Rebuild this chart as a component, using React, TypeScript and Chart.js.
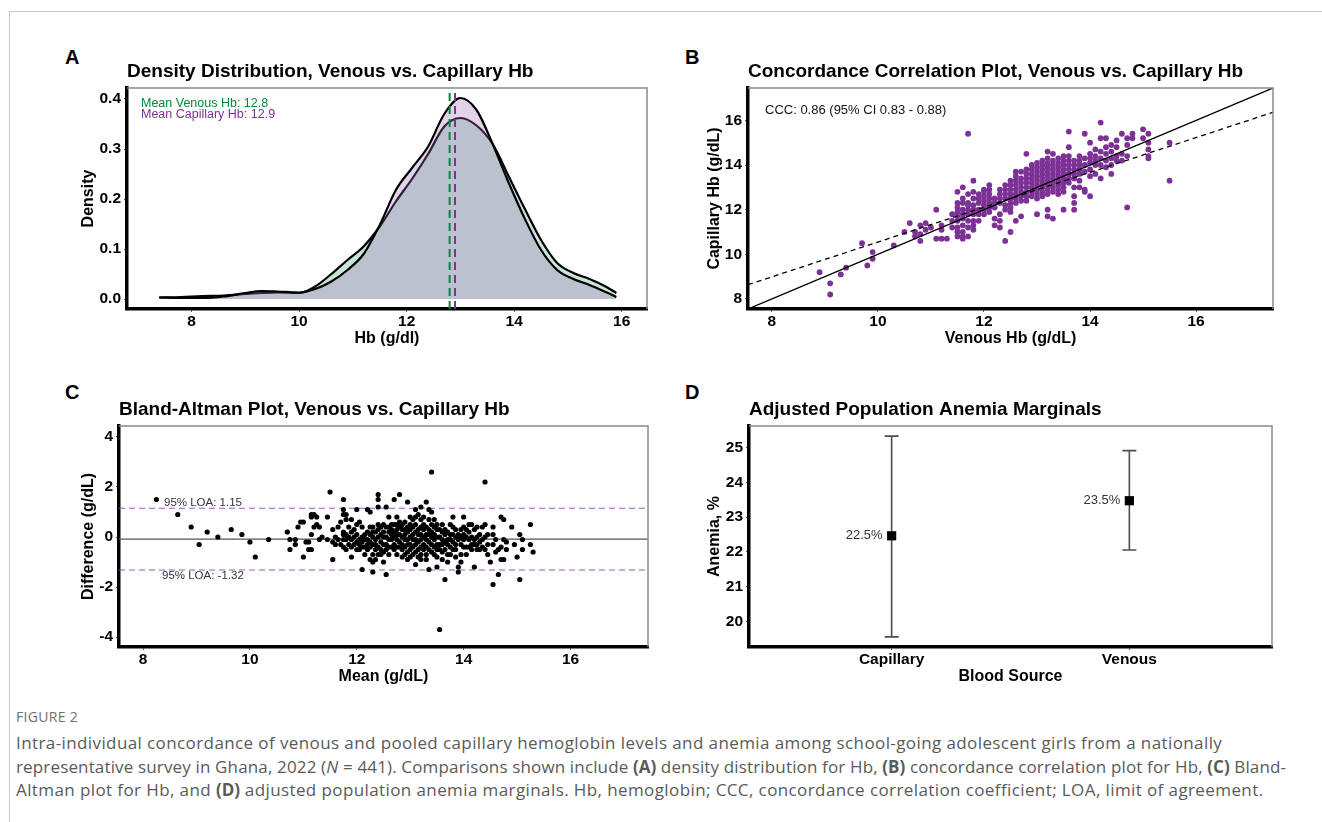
import React, { useEffect, useRef } from 'react';
import { Chart, registerables } from 'chart.js';

Chart.register(...registerables);

const FONT = '"Liberation Sans", Arial, Helvetica, sans-serif';
Chart.defaults.font.family = FONT;

// ---------- Panel A: density ----------
const densityX = [7.4, 7.8, 8.2, 8.6, 9.0, 9.3, 9.6, 10.0, 10.3, 10.6, 10.9, 11.2, 11.5, 11.8, 12.1, 12.4, 12.7, 13.0, 13.3, 13.6, 13.9, 14.2, 14.5, 14.8, 15.1, 15.4, 15.7, 15.9];
const densityVenous = [0.003, 0.004, 0.006, 0.007, 0.010, 0.012, 0.013, 0.012, 0.025, 0.05, 0.078, 0.105, 0.145, 0.195, 0.24, 0.29, 0.345, 0.362, 0.347, 0.31, 0.245, 0.18, 0.118, 0.072, 0.052, 0.04, 0.025, 0.012];
const densityCapillary = [0.003, 0.002, 0.002, 0.005, 0.012, 0.016, 0.015, 0.013, 0.02, 0.035, 0.058, 0.09, 0.148, 0.218, 0.262, 0.305, 0.37, 0.402, 0.378, 0.31, 0.232, 0.16, 0.098, 0.058, 0.04, 0.028, 0.014, 0.004];
const meanVenous = 12.8;
const meanCapillary = 12.9;
const aXTicks = [8, 10, 12, 14, 16];
const aYTicks = [0, 0.1, 0.2, 0.3, 0.4];

// ---------- Panel B: concordance ----------
const bVenousCols = [8.9, 9.1, 9.3, 9.4, 9.7, 9.8, 9.9, 10.3, 10.5, 10.6, 10.7, 10.8, 10.9, 11.0, 11.1, 11.2, 11.3, 11.4,
  11.5, 11.6, 11.7, 11.8, 11.9, 12.0, 12.1, 12.2, 12.3, 12.4, 12.5, 12.6, 12.7, 12.8, 12.9, 13.0, 13.1, 13.2, 13.3, 13.4,
  13.5, 13.6, 13.7, 13.8, 13.9, 14.0, 14.1, 14.2, 14.3, 14.4, 14.5, 14.6, 14.7, 14.8, 15.0, 15.1, 15.5];
const bCapillaryCols = [
  [9.2], [8.7, 8.2], [9.1], [9.4], [10.5], [9.5], [10.1, 9.8], [10.4], [11.0], [11.4], [11.0, 10.8], [11.3, 10.9, 10.6],
  [11.4, 11.1], [11.2], [12.0, 10.7], [11.3, 11.1, 10.7], [10.7], [11.8, 11.5, 11.2],
  [12.8, 12.3, 12.1, 11.9, 11.7, 11.5, 11.2, 11.0, 10.8],
  [13.0, 12.5, 12.3, 12.0, 11.8, 11.6, 11.3, 11.0, 10.8, 10.7],
  [15.4, 12.7, 12.3, 12.2, 12.0, 11.8, 11.5, 11.2, 10.8],
  [13.3, 12.8, 12.5, 12.2, 12.0, 11.8, 11.5, 11.3, 11.1],
  [12.7, 12.5, 12.3, 12.0, 11.8, 11.5],
  [12.9, 12.8, 12.6, 12.4, 12.2, 12.0, 11.8],
  [13.1, 12.9, 12.7, 12.5, 12.3, 12.1, 11.9],
  [12.5, 12.3, 12.1, 11.6, 11.3],
  [12.9, 12.7, 12.5, 12.3, 11.8, 11.5, 11.2],
  [13.1, 12.9, 12.7, 12.5, 12.2, 12.0, 10.6],
  [13.3, 13.1, 12.9, 12.7, 12.5, 12.3, 12.1, 11.9, 11.0],
  [13.7, 13.5, 13.3, 13.1, 12.9, 12.7, 12.5, 12.3, 11.5],
  [13.7, 13.4, 13.2, 13.0, 12.8, 12.6, 12.4, 11.7],
  [14.5, 13.8, 13.6, 13.4, 13.2, 13.0, 12.8, 12.6, 12.4],
  [14.0, 13.8, 13.6, 13.4, 13.2, 13.0, 12.8, 12.6],
  [14.1, 13.9, 13.7, 13.5, 13.3, 13.1, 12.9, 12.7, 12.5, 11.8],
  [14.2, 14.0, 13.8, 13.6, 13.4, 13.2, 13.0, 12.8, 12.6],
  [14.6, 14.3, 14.1, 13.9, 13.7, 13.5, 13.3, 13.1, 12.9, 12.7, 12.0, 11.7],
  [14.5, 14.2, 14.0, 13.8, 13.6, 13.4, 13.2, 13.0, 12.8, 11.6],
  [14.3, 14.1, 13.9, 13.7, 13.5, 13.3, 13.1, 12.9, 12.7],
  [14.4, 14.2, 14.0, 13.8, 13.6, 13.4, 13.2, 13.0, 12.8, 12.0],
  [15.5, 14.8, 14.4, 14.2, 14.0, 13.8, 13.6, 13.4, 13.2],
  [14.2, 14.0, 13.8, 13.6, 13.4, 13.0, 12.6, 12.3, 12.0],
  [14.4, 14.2, 14.0, 13.8, 13.6, 13.3, 13.0],
  [15.4, 14.3, 14.0, 13.7, 12.9, 12.8],
  [15.0, 14.5, 14.3, 14.1, 13.8, 13.5, 12.6],
  [14.7, 14.4, 14.2, 14.0, 13.6],
  [15.9, 15.2, 14.6, 14.3, 14.0, 13.4],
  [15.2, 14.8, 14.5, 14.2, 13.9],
  [14.9, 14.6, 14.3, 14.0, 13.6],
  [15.1, 14.8, 14.4, 14.2],
  [15.4, 14.5, 14.2],
  [15.2, 14.9, 14.4, 12.1],
  [15.4, 15.2],
  [15.6, 15.2],
  [15.4, 15.0, 14.7, 14.4, 14.3],
  [15.0, 13.3],
];
const cccSlope = 0.78;
const cccIntercept = 2.75;
const cccLabel = 'CCC: 0.86 (95% CI 0.83 - 0.88)';
const bTicks = [8, 10, 12, 14, 16];

// ---------- Panel C: Bland-Altman ----------
const cMeanCols = [8.25, 8.65, 8.9, 9.05, 9.2, 9.4, 9.65, 9.85, 10.0, 10.1, 10.35, 10.7, 10.75, 10.85, 10.9, 10.95, 11.0, 11.05, 11.1, 11.15,
  11.2, 11.25, 11.3, 11.35, 11.45, 11.5, 11.55, 11.6, 11.65, 11.7, 11.75, 11.8, 11.85, 11.9, 11.95, 12.0, 12.05, 12.1, 12.15, 12.2,
  12.25, 12.3, 12.35, 12.4, 12.45, 12.5, 12.55, 12.6, 12.65, 12.7, 12.75, 12.8, 12.85, 12.9, 12.95, 13.0, 13.05, 13.1, 13.15, 13.2,
  13.25, 13.3, 13.35, 13.4, 13.45, 13.5, 13.55, 13.6, 13.65, 13.7, 13.75, 13.8, 13.85, 13.9, 13.95, 14.0, 14.05, 14.1, 14.15, 14.2,
  14.25, 14.3, 14.35, 14.4, 14.45, 14.5, 14.55, 14.6, 14.65, 14.7, 14.75, 14.8, 14.9, 14.95, 15.0, 15.05, 15.1, 15.25, 15.3];
const cDiffCols = [
  [1.5], [0.9], [0.4], [-0.3], [0.2], [0.0], [0.3], [0.1], [-0.2], [-0.8], [-0.1], [0.2], [-0.1, -0.5], [-0.1, -0.3], [0.4], [0.6],
  [0.6, -0.8], [-0.2], [-0.5, -0.2], [0.9, 0.8, 0.1, -0.5],
  [0.9, 0.4], [0.8, 0.5], [0.4, -0.1], [0.0], [0.8, -0.1], [1.8], [-0.9, 0.3, -0.2], [0.0, -0.3], [0.4, -0.1], [0.6, -0.3],
  [1.5, 1.1, 0.9, 0.2, 0.1, -0.1, -0.4], [0.9, 0.7, 0.1, -0.1, -0.5], [0.4, 0.0, -0.3], [0.7, 0.2, -0.1, -0.4, -0.8], [0.3, 0.0, -0.3],
  [1.1, 0.5, 0.1, -0.2, -0.5], [0.6, -0.1, -0.3, -0.5], [0.4, 0.0, -0.2, -0.4, -1.3], [0.1, -0.1, -0.4, -0.7], [1.1, 0.2, -0.1, -0.3, -0.5],
  [1.0, 0.4, 0.1, -0.2, -0.4, -0.9], [0.4, 0.2, 0.0, -0.3, -0.7, -1.0, -1.4], [0.2, -0.1, -0.3, -0.5, -0.9],
  [1.7, 1.5, 1.2, 0.5, 0.3, 0.0, -0.4, -0.7], [0.4, 0.1, -0.2, -0.5, -0.7], [0.5, 0.2, 0.0, -0.3, -0.6, -1.0],
  [1.2, -1.5, 0.4, 0.0, -0.3, -0.5], [0.8, 0.4, 0.2, -0.1, -0.4, -0.7], [0.5, 0.3, 0.1, -0.1, -0.4], [1.5, 0.5, 0.2, 0.0, -0.3, -0.5],
  [0.8, 0.5, 0.3, 0.1, -0.1, -0.4, -0.7], [1.7, 0.6, 0.4, 0.1, -0.2, -0.4], [0.5, 0.3, 0.0, -0.3, -0.5, -0.8], [0.6, 0.3, 0.1, -0.1, -0.4, -0.7],
  [1.4, 0.4, 0.2, -0.1, -0.3, -0.6, -0.9], [0.8, 0.5, 0.3, 0.0, -0.3, -0.5, -0.8], [0.7, 0.4, 0.1, -0.1, -0.4, -0.7],
  [1.1, 0.8, 0.5, 0.2, -0.1, -0.3, -0.6, -1.1], [0.9, 0.3, 0.1, -0.2, -0.5, -0.8], [1.2, 0.7, 0.4, 0.1, -0.1, -0.4, -0.7, -0.9],
  [0.8, 0.5, 0.3, 0.0, -0.3, -0.5], [1.4, 0.4, 0.1, -0.1, -0.4, -0.7, -0.9], [1.1, 0.7, 0.3, 0.1, -0.2, -0.5, -1.3],
  [2.6, 1.0, 0.5, 0.2, 0.0, -0.3, -0.6], [0.7, 0.4, 0.1, -0.1, -0.4, -0.7], [0.5, 0.3, 0.0, -0.3, -0.5, -0.8, -1.2],
  [-3.7, 0.3, 0.0, -0.3, -0.5], [0.5, 0.2, -0.1, -0.3, -0.6, -0.9], [0.3, 0.1, -0.2, -0.5, -1.7], [0.2, -0.1, -0.3, -0.7, -1.0],
  [0.5, 0.1, -0.1, -0.4, -0.7], [0.8, 0.4, 0.1, -0.2, -0.5], [0.3, 0.0, -0.3, -0.5, -0.8], [0.1, -0.1, -1.2, -1.4],
  [0.3, 0.0, -0.3, -0.7, -1.0], [0.8, 0.4, 0.1, -0.1, -0.4], [0.3, 0.0, -0.4, -0.7], [0.5, 0.2, -0.1, -0.4], [0.5, 0.0, -0.3, -0.5],
  [0.3, -0.1, -0.3, -1.2], [0.4, 0.0, -0.3, -0.5], [0.1, -0.2, -0.5], [0.4, -0.1, -0.4], [2.2, 0.5, 0.0, -0.5], [0.1, -0.3, -0.7],
  [-1.0], [0.4, 0.1, -0.3, -1.9], [-0.1, -0.6], [-0.5, -1.5], [0.8, -0.4, -0.9], [0.7, -0.1, -0.9], [-0.2, -0.5], [0.4], [-0.3],
  [-0.8], [0.1, -1.7], [-0.1, -0.5], [0.5, -0.3], [-0.6],
];
const loaUpper = 1.15;
const loaLower = -1.32;
const meanDiff = (loaUpper + loaLower) / 2;
const cXTicks = [8, 10, 12, 14, 16];
const cYTicks = [-4, -2, 0, 2, 4];

// ---------- Panel D: marginals ----------
const dCategories = ['Capillary', 'Venous'];
const dEstimate = [22.46, 23.47];
const dLower = [19.55, 22.05];
const dUpper = [25.33, 24.91];
const dYTicks = [20, 21, 22, 23, 24, 25];

// ---------- layout ----------
const PAD_L = 80, PAD_T = 50, PAD_R = 12, PAD_B = 50;
const BOX_A = [127, 88, 647, 309];
const BOX_B = [748, 88, 1273, 309];
const BOX_C = [119, 426, 648, 647];
const BOX_D = [749, 426, 1272, 647];

const GREEN = '#008837';
const PURPLE = '#7b3294';

function drawText(ctx: any, text: string, x: number, y: number, o: any) {
  ctx.save();
  ctx.font = o.font;
  ctx.fillStyle = o.color || '#000';
  ctx.textAlign = o.align || 'left';
  ctx.textBaseline = 'middle';
  ctx.translate(x, y);
  if (o.rotate) ctx.rotate(o.rotate);
  ctx.fillText(text, 0, 0);
  ctx.restore();
}

function framePlugin(title: string, xTitle: string, yTitle: string, yTitleOffset: number) {
  return {
    id: 'frame',
    afterDraw(chart: any) {
      const { ctx, chartArea: a } = chart;
      ctx.save();
      ctx.strokeStyle = '#8a8a8a';
      ctx.lineWidth = 1.5;
      ctx.beginPath();
      ctx.moveTo(a.left, a.top);
      ctx.lineTo(a.right, a.top);
      ctx.lineTo(a.right, a.bottom);
      ctx.stroke();
      ctx.restore();
      drawText(ctx, title, a.left, a.top - 16.5, { font: `bold 19px ${FONT}` });
      drawText(ctx, xTitle, (a.left + a.right) / 2, a.bottom + 30, { font: `bold 16px ${FONT}`, align: 'center' });
      drawText(ctx, yTitle, a.left - yTitleOffset, (a.top + a.bottom) / 2, { font: `bold 16px ${FONT}`, align: 'center', rotate: -Math.PI / 2 });
    },
  };
}

function axis(dir: 'x' | 'y', min: number, max: number, ticks: number[], fmt: (v: number) => string) {
  return {
    type: 'linear',
    min,
    max,
    afterBuildTicks: (s: any) => { s.ticks = ticks.map((v) => ({ value: v })); },
    afterFit: (s: any) => { if (dir === 'x') s.height = PAD_B; else s.width = PAD_L; },
    grid: { display: true, drawOnChartArea: false, drawTicks: true, tickLength: 3, color: '#4d4d4d', lineWidth: 1 },
    border: { display: true, color: '#000', width: 3.5 },
    ticks: {
      color: '#000',
      font: { family: FONT, size: 15.5, weight: 'bold' },
      padding: dir === 'x' ? 0 : 3,
      autoSkip: false,
      maxRotation: 0,
      callback: (v: any) => fmt(Number(v)),
    },
    title: { display: false },
  };
}

function baseOptions(xs: any, ys: any) {
  return {
    responsive: false,
    animation: false,
    devicePixelRatio: 1,
    layout: { padding: { left: 0, top: PAD_T, right: PAD_R, bottom: 0 } },
    plugins: { legend: { display: false }, tooltip: { enabled: false }, title: { display: false } },
    scales: { x: xs, y: ys },
  };
}

function makeA() {
  const meanPlugin = {
    id: 'means',
    afterDatasetsDraw(chart: any) {
      const { ctx, chartArea: a, scales } = chart;
      const lines = [[meanVenous, GREEN], [meanCapillary, PURPLE]];
      ctx.save();
      ctx.lineWidth = 2;
      ctx.setLineDash([8, 5]);
      for (const [v, c] of lines as any) {
        const px = scales.x.getPixelForValue(v);
        ctx.strokeStyle = c;
        ctx.beginPath();
        ctx.moveTo(px, a.bottom);
        ctx.lineTo(px, a.top);
        ctx.stroke();
      }
      ctx.restore();
      drawText(ctx, `Mean Venous Hb: ${meanVenous.toFixed(1)}`, a.left + 14, a.top + 16, { font: `12.5px ${FONT}`, color: GREEN });
      drawText(ctx, `Mean Capillary Hb: ${meanCapillary.toFixed(1)}`, a.left + 14, a.top + 27, { font: `12.5px ${FONT}`, color: PURPLE });
    },
  };
  return {
    type: 'line',
    data: {
      datasets: [
        {
          data: densityX.map((x, i) => ({ x, y: densityCapillary[i] })),
          borderColor: '#000', borderWidth: 2.2, backgroundColor: 'rgba(158,105,185,0.3)', fill: 'origin',
          pointRadius: 0, cubicInterpolationMode: 'monotone',
        },
        {
          data: densityX.map((x, i) => ({ x, y: densityVenous[i] })),
          borderColor: '#000', borderWidth: 2.2, backgroundColor: 'rgba(72,171,122,0.3)', fill: 'origin',
          pointRadius: 0, cubicInterpolationMode: 'monotone',
        },
      ],
    },
    options: baseOptions(axis('x', 6.8, 16.47, aXTicks, (v) => String(v)), axis('y', -0.02, 0.422, aYTicks, (v) => v.toFixed(1))),
    plugins: [meanPlugin, framePlugin('Density Distribution, Venous vs. Capillary Hb', 'Hb (g/dl)', 'Density', 38)],
  };
}

function makeB() {
  const lo = 7.55, hi = 17.45;
  const points = bVenousCols.flatMap((v, i) => bCapillaryCols[i].map((c) => ({ x: v, y: c })));
  const textPlugin = {
    id: 'ccc',
    afterDatasetsDraw(chart: any) {
      const a = chart.chartArea;
      drawText(chart.ctx, cccLabel, a.left + 17, a.top + 22, { font: `13px ${FONT}`, color: '#111' });
    },
  };
  return {
    type: 'scatter',
    data: {
      datasets: [
        { data: [{ x: lo, y: lo }, { x: hi, y: hi }], showLine: true, borderColor: '#000', borderWidth: 1.3, pointRadius: 0 },
        {
          data: [{ x: lo, y: cccIntercept + cccSlope * lo }, { x: hi, y: cccIntercept + cccSlope * hi }],
          showLine: true, borderColor: '#000', borderWidth: 1.3, borderDash: [5, 4], pointRadius: 0,
        },
        { data: points, backgroundColor: PURPLE, borderWidth: 0, pointRadius: 2.9 },
      ],
    },
    options: baseOptions(axis('x', lo, hi, bTicks, (v) => String(v)), axis('y', lo, hi, bTicks, (v) => String(v))),
    plugins: [textPlugin, framePlugin('Concordance Correlation Plot, Venous vs. Capillary Hb', 'Venous Hb (g/dL)', 'Capillary Hb (g/dL)', 33)],
  };
}

function makeC() {
  const points = cMeanCols.flatMap((m, i) => cDiffCols[i].map((d) => ({ x: m, y: d })));
  const loaPlugin = {
    id: 'loa',
    beforeDatasetsDraw(chart: any) {
      const { ctx, chartArea: a, scales } = chart;
      ctx.save();
      ctx.lineWidth = 1.2;
      ctx.strokeStyle = '#555';
      const ym = scales.y.getPixelForValue(meanDiff);
      ctx.beginPath(); ctx.moveTo(a.left, ym); ctx.lineTo(a.right, ym); ctx.stroke();
      ctx.strokeStyle = '#9b59c4';
      ctx.setLineDash([6, 4]);
      for (const v of [loaUpper, loaLower]) {
        const y = scales.y.getPixelForValue(v);
        ctx.beginPath(); ctx.moveTo(a.left, y); ctx.lineTo(a.right, y); ctx.stroke();
      }
      ctx.restore();
      const yu = scales.y.getPixelForValue(loaUpper);
      const yl = scales.y.getPixelForValue(loaLower);
      drawText(ctx, `95% LOA: ${loaUpper.toFixed(2)}`, a.left + 45, yu - 5, { font: `11.5px ${FONT}`, color: '#333' });
      drawText(ctx, `95% LOA: ${loaLower.toFixed(2)}`, a.left + 43, yl + 6, { font: `11.5px ${FONT}`, color: '#333' });
    },
  };
  return {
    type: 'scatter',
    data: { datasets: [{ data: points, backgroundColor: '#000', borderWidth: 0, pointRadius: 2.6 }] },
    options: baseOptions(axis('x', 7.55, 17.45, cXTicks, (v) => String(v)), axis('y', -4.4, 4.44, cYTicks, (v) => String(v))),
    plugins: [loaPlugin, framePlugin('Bland-Altman Plot, Venous vs. Capillary Hb', 'Mean (g/dL)', 'Difference (g/dL)', 30)],
  };
}

function makeD() {
  const errPlugin = {
    id: 'err',
    beforeDatasetsDraw(chart: any) {
      const { ctx, scales } = chart;
      ctx.save();
      ctx.strokeStyle = '#4d4d4d';
      ctx.lineWidth = 1.6;
      dCategories.forEach((_, i) => {
        const x = scales.x.getPixelForValue(i + 1);
        const y1 = scales.y.getPixelForValue(dLower[i]);
        const y2 = scales.y.getPixelForValue(dUpper[i]);
        ctx.beginPath();
        ctx.moveTo(x, y1); ctx.lineTo(x, y2);
        ctx.moveTo(x - 7, y1); ctx.lineTo(x + 7, y1);
        ctx.moveTo(x - 7, y2); ctx.lineTo(x + 7, y2);
        ctx.stroke();
      });
      ctx.restore();
    },
    afterDatasetsDraw(chart: any) {
      const { ctx, scales } = chart;
      dCategories.forEach((_, i) => {
        const x = scales.x.getPixelForValue(i + 1);
        const y = scales.y.getPixelForValue(dEstimate[i]);
        drawText(ctx, `${dEstimate[i].toFixed(1)}%`, x - 9, y, { font: `13px ${FONT}`, color: '#333', align: 'right' });
      });
    },
  };
  return {
    type: 'scatter',
    data: {
      datasets: [{
        data: dCategories.map((_, i) => ({ x: i + 1, y: dEstimate[i] })),
        backgroundColor: '#000', borderWidth: 0, pointStyle: 'rect', pointRadius: 6.5,
      }],
    },
    options: baseOptions(axis('x', 0.4, 2.6, [1, 2], (v) => dCategories[v - 1] || ''), axis('y', 19.26, 25.62, dYTicks, (v) => String(v))),
    plugins: [errPlugin, framePlugin('Adjusted Population Anemia Marginals', 'Blood Source', 'Anemia, %', 34)],
  };
}

function Panel({ box, make }: { box: number[]; make: () => any }) {
  const ref = useRef<HTMLCanvasElement | null>(null);
  const [L, T, R, B] = box;
  const w = R - L + PAD_L + PAD_R;
  const h = B - T + PAD_T + PAD_B;
  useEffect(() => {
    const chart = new Chart(ref.current as HTMLCanvasElement, make());
    return () => chart.destroy();
  }, []);
  return (
    <canvas ref={ref} width={w} height={h}
      style={{ position: 'absolute', left: L - PAD_L, top: T - PAD_T, width: w, height: h }} />
  );
}

const letterStyle = (left: number, top: number): React.CSSProperties => ({
  position: 'absolute', left, top, font: `bold 20px ${FONT}`, color: '#000', lineHeight: '20px',
});

const boldCap: React.CSSProperties = { fontWeight: 700, letterSpacing: 0 };

export default function App() {
  return (
    <div style={{ position: 'absolute', left: 0, top: 0, width: 1322, height: 822, background: '#fff', overflow: 'hidden' }}>
      <div style={{ position: 'absolute', left: 9, top: 11, width: 1313, height: 811, borderTop: '1px solid #c8c8c8', borderLeft: '1px solid #c8c8c8' }} />
      <div style={letterStyle(65, 47)}>A</div>
      <div style={letterStyle(685, 47)}>B</div>
      <div style={letterStyle(65, 382)}>C</div>
      <div style={letterStyle(685, 382)}>D</div>
      <Panel box={BOX_A} make={makeA} />
      <Panel box={BOX_B} make={makeB} />
      <Panel box={BOX_C} make={makeC} />
      <Panel box={BOX_D} make={makeD} />
      <div style={{ position: 'absolute', left: 16, top: 709, font: '14px "Open Sans", sans-serif', color: '#707070', letterSpacing: 0.3, lineHeight: '16px' }}>FIGURE 2</div>
      <div style={{ position: 'absolute', left: 16, top: 731, font: '17px "Open Sans", sans-serif', color: '#5a5a5a', lineHeight: '23.5px', whiteSpace: 'nowrap' }}>
        <div style={{ letterSpacing: '0.4px' }}>Intra-individual concordance of venous and pooled capillary hemoglobin levels and anemia among school-going adolescent girls from a nationally</div>
        <div style={{ letterSpacing: '0.15px' }}>representative survey in Ghana, 2022 (<i>N</i> = 441). Comparisons shown include <b style={boldCap}>(A)</b> density distribution for Hb, <b style={boldCap}>(B)</b> concordance correlation plot for Hb, <b style={boldCap}>(C)</b> Bland-</div>
        <div style={{ letterSpacing: '0.4px' }}>Altman plot for Hb, and <b style={boldCap}>(D)</b> adjusted population anemia marginals. Hb, hemoglobin; CCC, concordance correlation coefficient; LOA, limit of agreement.</div>
      </div>
    </div>
  );
}
